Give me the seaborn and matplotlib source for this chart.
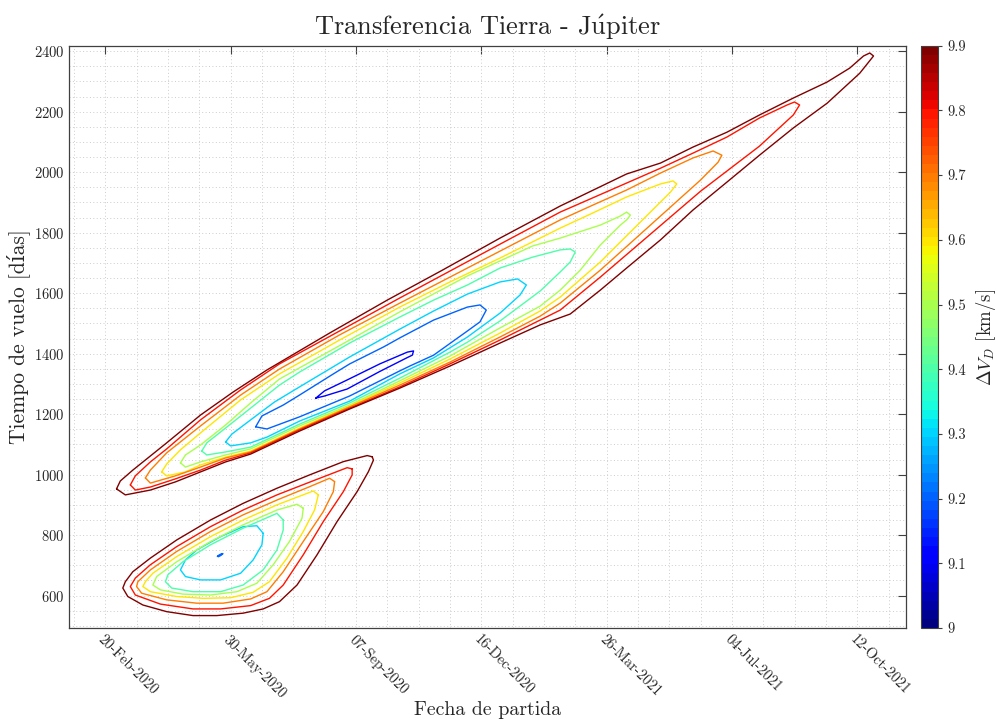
import numpy as np
import pandas as pd
import matplotlib
matplotlib.use("Agg")
import matplotlib.pyplot as plt
from matplotlib import colors as mcolors
from matplotlib import colorbar as mcolorbar
from matplotlib.ticker import MultipleLocator
import seaborn as sns

# departure = days after 20-Feb-2020, tof = time of flight in days
# contours, one closed path per level

# upper family
up_99_dep = [9, 12, 22, 49, 76, 102, 129, 179, 225, 269, 315, 363, 416, 443, 469, 496, 522, 549, 576, 594, 605, 610, 613,
             602, 576, 549, 522, 496, 469, 443, 416, 395, 371, 347, 315, 275, 235, 195, 155, 116, 96, 76, 56, 36, 16, 9]
up_99_tof = [953, 979, 1015, 1105, 1197, 1273, 1346, 1468, 1577, 1676, 1782, 1888, 1994, 2030, 2083, 2132, 2189, 2245, 2298, 2344, 2384, 2394, 2384,
             2327, 2228, 2146, 2056, 1967, 1875, 1776, 1683, 1610, 1531, 1495, 1435, 1359, 1286, 1217, 1144, 1068, 1042, 1009, 976, 949, 933, 953]

up_98_dep = [20, 24, 36, 49, 76, 108, 139, 187, 235, 275, 315, 363, 416, 443, 469, 496, 522, 544, 550, 554,
             549, 522, 475, 435, 395, 363, 347, 315, 275, 235, 195, 155, 116, 96, 76, 56, 36, 24, 20]
up_98_tof = [966, 996, 1042, 1085, 1181, 1280, 1366, 1475, 1584, 1673, 1762, 1868, 1964, 2013, 2063, 2116, 2179, 2222, 2232, 2222,
             2189, 2086, 1937, 1795, 1653, 1544, 1511, 1445, 1366, 1290, 1220, 1148, 1072, 1048, 1015, 986, 959, 949, 966]

up_97_dep = [32, 36, 49, 76, 108, 139, 187, 235, 275, 315, 363, 389, 416, 443, 469, 485, 492,
             489, 475, 435, 395, 363, 347, 315, 275, 235, 195, 155, 116, 96, 76, 56, 36, 32]
up_97_tof = [989, 1015, 1072, 1161, 1263, 1349, 1462, 1567, 1653, 1739, 1842, 1891, 1941, 1997, 2047, 2070, 2056,
             2033, 1974, 1825, 1676, 1567, 1524, 1455, 1372, 1296, 1224, 1151, 1075, 1055, 1025, 996, 972, 989]

up_96_dep = [45, 49, 60, 76, 108, 139, 187, 235, 275, 315, 363, 389, 416, 443, 453, 456,
             451, 427, 395, 363, 347, 315, 275, 235, 195, 155, 116, 96, 76, 64, 49, 45]
up_96_tof = [1009, 1035, 1082, 1138, 1247, 1333, 1445, 1554, 1637, 1716, 1815, 1865, 1918, 1961, 1971, 1961,
             1934, 1835, 1703, 1587, 1541, 1468, 1382, 1303, 1227, 1154, 1078, 1058, 1032, 1009, 996, 1009]

up_95_dep = [60, 64, 76, 96, 116, 139, 155, 195, 235, 289, 341, 363, 395, 411, 416, 419,
             416, 411, 395, 379, 363, 347, 315, 275, 235, 195, 155, 116, 96, 76, 64, 60]
up_95_tof = [1039, 1065, 1098, 1164, 1237, 1316, 1353, 1445, 1538, 1657, 1756, 1782, 1825, 1855, 1868, 1858,
             1842, 1825, 1759, 1676, 1610, 1557, 1485, 1392, 1310, 1230, 1161, 1085, 1065, 1042, 1025, 1039]

up_94_dep = [77, 81, 96, 116, 139, 155, 195, 235, 262, 289, 315, 341, 363, 371, 375,
             371, 363, 347, 315, 289, 275, 235, 195, 155, 116, 96, 81, 77]
up_94_tof = [1078, 1105, 1154, 1220, 1296, 1339, 1435, 1521, 1577, 1627, 1683, 1719, 1743, 1746, 1736,
             1703, 1670, 1607, 1508, 1438, 1405, 1319, 1237, 1167, 1091, 1075, 1065, 1078]

up_93_dep = [96, 101, 116, 135, 155, 195, 235, 262, 289, 315, 329, 336,
             331, 315, 289, 262, 235, 195, 155, 129, 116, 100, 96]
up_93_tof = [1108, 1134, 1181, 1240, 1290, 1389, 1481, 1541, 1597, 1637, 1647, 1627,
             1594, 1534, 1455, 1386, 1333, 1243, 1177, 1124, 1105, 1095, 1108]

up_92_dep = [120, 125, 142, 155, 182, 195, 222, 235, 262, 289, 299, 304,
             299, 289, 262, 243, 235, 195, 155, 129, 120]
up_92_tof = [1158, 1194, 1230, 1263, 1333, 1366, 1422, 1452, 1511, 1554, 1561, 1544,
             1505, 1475, 1395, 1359, 1343, 1260, 1191, 1151, 1158]

up_91_dep = [168, 175, 193, 219, 241, 246, 245, 241, 219, 193, 175, 168]
up_91_tof = [1253, 1277, 1313, 1366, 1405, 1409, 1395, 1387, 1341, 1283, 1260, 1253]

# lower family
lo_99_dep = [213, 209, 190, 163, 137, 110, 84, 57, 36, 22, 16, 14, 18, 30, 49, 70, 89, 110, 126, 139, 153, 169, 185, 201, 210, 214, 213]
lo_99_tof = [1059, 1063, 1043, 999, 955, 905, 850, 784, 724, 679, 646, 625, 597, 569, 547, 534, 534, 542, 556, 580, 635, 735, 845, 944, 1010, 1048, 1059]

lo_98_dep = [197, 193, 163, 137, 110, 84, 57, 36, 24, 20, 24, 44, 70, 92, 116, 131, 142, 158, 174, 190, 197, 197]
lo_98_tof = [1019, 1023, 975, 933, 883, 828, 762, 702, 658, 630, 602, 572, 556, 556, 567, 591, 635, 735, 845, 944, 999, 1019]

lo_97_dep = [183, 179, 163, 137, 110, 84, 57, 36, 26, 25, 29, 49, 73, 94, 116, 129, 142, 158, 174, 182, 183]
lo_97_tof = [977, 988, 960, 916, 867, 812, 746, 685, 646, 630, 608, 586, 575, 575, 589, 613, 679, 779, 878, 944, 977]

lo_96_dep = [170, 166, 137, 110, 84, 57, 38, 32, 30, 36, 57, 78, 100, 118, 131, 145, 158, 167, 170]
lo_96_tof = [933, 946, 900, 850, 795, 729, 674, 646, 630, 613, 597, 591, 593, 611, 646, 724, 812, 883, 933]

lo_95_dep = [158, 153, 137, 110, 84, 57, 41, 38, 44, 62, 84, 105, 121, 134, 147, 157, 158]
lo_95_tof = [889, 902, 883, 834, 779, 712, 663, 635, 619, 605, 602, 613, 641, 702, 779, 856, 889]

lo_94_dep = [142, 137, 110, 84, 62, 50, 48, 53, 70, 92, 110, 126, 137, 142, 142]
lo_94_tof = [850, 872, 823, 768, 712, 669, 646, 625, 613, 613, 635, 685, 751, 817, 850]

lo_93_dep = [126, 121, 110, 92, 73, 64, 60, 64, 76, 92, 108, 118, 125, 126]
lo_93_tof = [806, 831, 828, 795, 751, 718, 685, 663, 652, 652, 674, 718, 768, 806]

lo_92_dep = [89.5, 91.1, 93.1, 93.9, 92.3, 90.3, 89.5]
lo_92_tof = [730, 735, 739, 738.5, 733, 728.6, 730]

contours = [
    (9.9, up_99_dep, up_99_tof), (9.8, up_98_dep, up_98_tof), (9.7, up_97_dep, up_97_tof),
    (9.6, up_96_dep, up_96_tof), (9.5, up_95_dep, up_95_tof), (9.4, up_94_dep, up_94_tof),
    (9.3, up_93_dep, up_93_tof), (9.2, up_92_dep, up_92_tof), (9.1, up_91_dep, up_91_tof),
    (9.9, lo_99_dep, lo_99_tof), (9.8, lo_98_dep, lo_98_tof), (9.7, lo_97_dep, lo_97_tof),
    (9.6, lo_96_dep, lo_96_tof), (9.5, lo_95_dep, lo_95_tof), (9.4, lo_94_dep, lo_94_tof),
    (9.3, lo_93_dep, lo_93_tof), (9.2, lo_92_dep, lo_92_tof),
]

rows = []
for i, (lev, dep, tof) in enumerate(contours):
    for d, t in zip(dep, tof):
        rows.append((i, lev, d, t))
df = pd.DataFrame(rows, columns=["path", "level", "dep", "tof"])

t0 = pd.Timestamp("2020-02-20")
date_ticks = [0, 100, 200, 300, 400, 500, 600]
date_labels = [(t0 + pd.Timedelta(days=d)).strftime("%d-%b-%Y") for d in date_ticks]
cbar_ticks = [9.0, 9.1, 9.2, 9.3, 9.4, 9.5, 9.6, 9.7, 9.8, 9.9]

sns.set_style("white")
plt.rcParams["font.family"] = ["cmr10", "DejaVu Serif"]
plt.rcParams["mathtext.fontset"] = "cm"
plt.rcParams["axes.formatter.use_mathtext"] = True
plt.rcParams["axes.unicode_minus"] = False

jet64 = plt.get_cmap("jet", 64)

fig = plt.figure(figsize=(9.97, 7.2), dpi=100)
ax = fig.add_axes([0.0695, 0.1278, 0.8392, 0.8087])

sns.lineplot(data=df, x="dep", y="tof", hue="level", units="path", estimator=None,
             sort=False, palette=jet64, hue_norm=(9.0, 9.9), legend=False,
             linewidth=1.0, solid_joinstyle="round", ax=ax)

ax.set_xlim(-28.7, 638.9)
ax.set_ylim(493, 2418)
ax.set_xticks(date_ticks)
ax.set_xticklabels(date_labels, rotation=-45, ha="left", va="top", rotation_mode="anchor")
ax.set_yticks(range(600, 2401, 200))
ax.xaxis.set_minor_locator(MultipleLocator(25))
ax.yaxis.set_minor_locator(MultipleLocator(50))
ax.tick_params(which="major", direction="in", length=6, width=0.8, color="0.25",
               labelsize=10.5, labelcolor="0.15", top=True, right=True)
ax.tick_params(which="minor", length=0)
ax.grid(which="both", linestyle=(0, (1, 2.5)), color="0.8", linewidth=0.7)
for s in ax.spines.values():
    s.set_color("0.25")
    s.set_linewidth(0.9)

ax.set_title(r"Transferencia Tierra - J$\mathrm{\acute{u}}$piter", fontsize=19, pad=8)
ax.set_xlabel("Fecha de partida", fontsize=14.3, labelpad=0)
ax.set_ylabel("Tiempo de vuelo [días]", fontsize=15.5, labelpad=3)

cax = fig.add_axes([0.9238, 0.1278, 0.0171, 0.8087])
cb = mcolorbar.ColorbarBase(cax, cmap=jet64, norm=mcolors.Normalize(9.0, 9.9), ticks=cbar_ticks)
cb.ax.set_yticklabels([f"{v:g}" for v in cbar_ticks])
cb.ax.tick_params(labelsize=10.5, length=3, direction="out", color="0.25", labelcolor="0.15")
cb.outline.set_edgecolor("0.25")
cb.set_label(r"$\Delta V_D$ [km/s]", fontsize=13.5, labelpad=6)

fig.savefig("out.png", dpi=100, facecolor="white")
